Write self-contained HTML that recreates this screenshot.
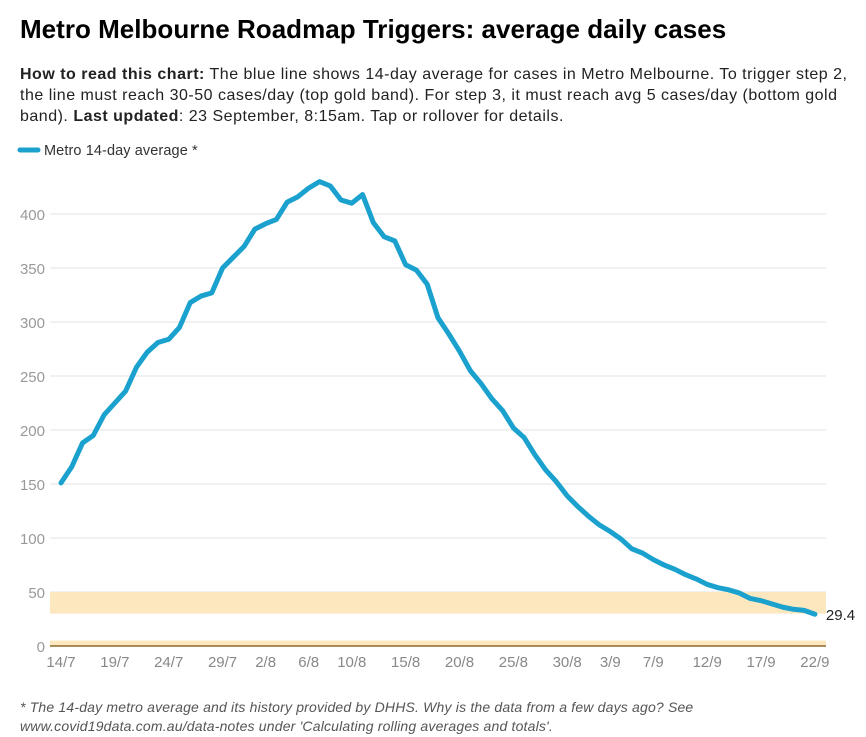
<!DOCTYPE html>
<html><head><meta charset="utf-8"><style>
body{margin:0;background:#fff;font-family:"Liberation Sans",sans-serif;}
#w{position:relative;width:866px;height:737px;overflow:hidden}
h1{position:absolute;left:20px;top:14px;margin:0;font-size:26px;font-weight:bold;color:#000;letter-spacing:0.02px;white-space:nowrap}
.desc{position:absolute;left:20px;top:64px;width:846px;font-size:16px;line-height:21px;color:#222;letter-spacing:0.5px;white-space:nowrap}
.note{position:absolute;left:20px;top:698px;font-size:14px;line-height:19px;color:#555;font-style:italic;letter-spacing:0.18px;white-space:nowrap}
svg{position:absolute;left:0;top:0}
</style></head><body><div id="w">
<h1>Metro Melbourne Roadmap Triggers: average daily cases</h1>
<div class="desc"><b>How to read this chart:</b> The blue line shows 14-day average for cases in Metro Melbourne. To trigger step 2,<br>the line must reach 30-50 cases/day (top gold band). For step 3, it must reach avg 5 cases/day (bottom gold<br>band). <b>Last updated</b>: 23 September, 8:15am. Tap or rollover for details.</div>
<svg id="c" width="866" height="737"></svg>
<div class="note">* The 14-day metro average and its history provided by DHHS. Why is the data from a few days ago? See<br>www.covid19data.com.au/data-notes under 'Calculating rolling averages and totals'.</div>
</div>
<script>
const values=[151,166,188,195,214,225,236,258,272,281,284,295,318,324,327,350,360,370,386,391,395,411,416,424,430,426,413,410,418,392,379,375,353,348,335,304,289,273,255,243,229,218,202,193,177,163,152,139,129,120,112,106,99,90,86,80,75,71,66,62,57,54,52,49,44,42,39,36,34,33,29.4];
const yTicks=[0,50,100,150,200,250,300,350,400];
const xTickDays=[0,5,10,15,19,23,27,32,37,42,47,51,55,60,65,70];
const xTickLabels=["14/7","19/7","24/7","29/7","2/8","6/8","10/8","15/8","20/8","25/8","30/8","3/9","7/9","12/9","17/9","22/9"];
const bands=[[30,50],[0,5]];
const lastLabel="29.4";
const NS="http://www.w3.org/2000/svg";
const svg=document.getElementById('c');
const x=d=>61+10.77*d;
const y=v=>646-1.08*v;
const X0=50,X1=826;
function mk(t,a){const e=document.createElementNS(NS,t);for(const k in a)e.setAttribute(k,a[k]);svg.appendChild(e);return e;}
yTicks.forEach(v=>{
 const l=mk('line',{x1:X0,x2:X1,y1:y(v),y2:y(v),stroke:'#e3e3e3','stroke-width':1});
 
 
 const t=mk('text',{x:45,y:y(v)+6,'text-anchor':'end','font-size':15,fill:'#999','font-family':'Liberation Sans, sans-serif'});
 t.textContent=v;
 
 
});
bands.forEach((b,i)=>{
 const r=mk('rect',{x:X0,y:y(b[1]),width:X1-X0,height:y(b[0])-y(b[1]),fill:'#fde7bf'});
 
 
});
const base=mk('line',{x1:X0,x2:X1,y1:y(0),y2:y(0),stroke:'#8a6a2a','stroke-width':1.5});


xTickDays.forEach((d,i)=>{
 const t=mk('text',{x:x(d),y:667,'text-anchor':'middle','font-size':15,fill:'#888','font-family':'Liberation Sans, sans-serif'});
 t.textContent=xTickLabels[i];
 
 
});
const p=mk('polyline',{points:values.map((v,i)=>x(i)+','+y(v)).join(' '),fill:'none',stroke:'#1ba1ce','stroke-width':5,'stroke-linejoin':'round','stroke-linecap':'round'});


const n=values.length-1;
const lt=mk('text',{x:x(n)+11,y:y(values[n])+6,'font-size':15,fill:'#222','font-family':'Liberation Sans, sans-serif'});
lt.textContent=lastLabel;


const ls=mk('line',{x1:20,x2:38,y1:150,y2:150,stroke:'#1ba1ce','stroke-width':5,'stroke-linecap':'round'});


const lg=mk('text',{x:44,y:155,'font-size':14.5,fill:'#333','font-family':'Liberation Sans, sans-serif','letter-spacing':'0.1'});
lg.textContent='Metro 14-day average *';


</script>
</body></html>
